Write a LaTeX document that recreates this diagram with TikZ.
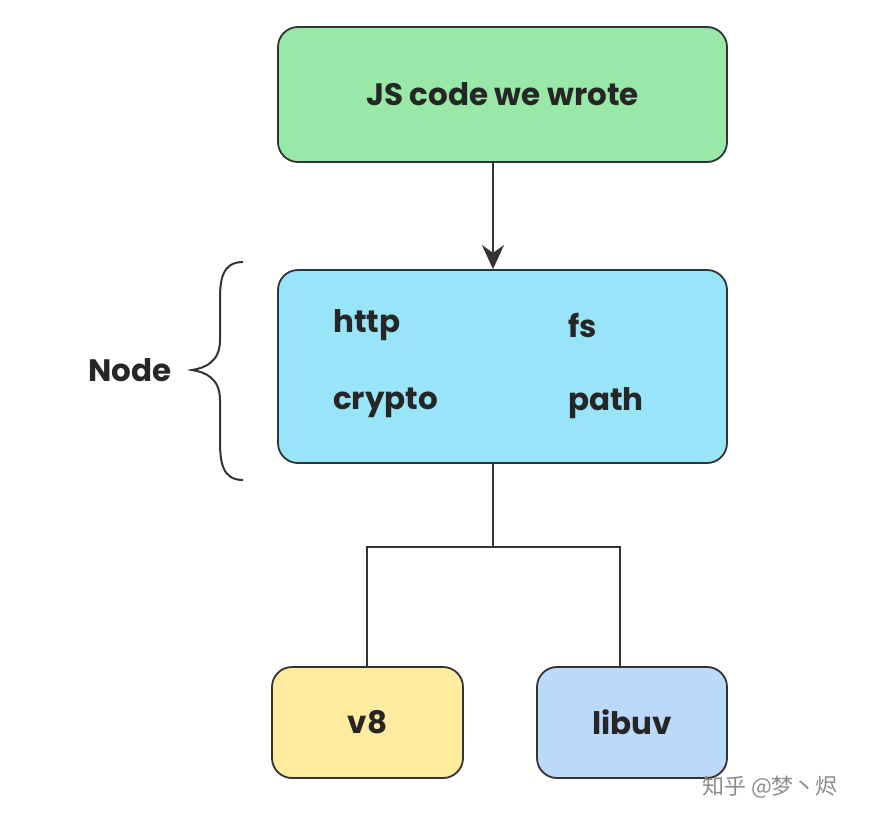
\documentclass[tikz,border=0pt]{standalone}
\usepackage{fontspec}
\setmainfont{Poppins}
\newfontfamily\cjk{Noto Sans CJK SC}
\usetikzlibrary{arrows.meta}
\definecolor{jsgreen}{HTML}{98E8A8}
\definecolor{nodeblue}{HTML}{98E4F8}
\definecolor{veight}{HTML}{FFEBA0}
\definecolor{uvblue}{HTML}{BBD9FB}
\definecolor{edge}{HTML}{333333}
\tikzset{
  box/.style={draw=edge,line width=1.8pt,rounded corners=20pt,inner sep=0pt},
  lbl/.style={font=\fontsize{31}{36}\selectfont\bfseries,text=black!85},
  mod/.style={lbl,anchor=west,inner sep=0pt},
  wire/.style={draw=edge,line width=2.2pt}
}
\begin{document}
\begin{tikzpicture}[x=1pt,y=-1pt]
  \useasboundingbox (0,0) rectangle (872,822);
  % boxes
  \node[box,fill=jsgreen,minimum width=449pt,minimum height=135pt] (js) at (502.5,94.5) {};
  \node[lbl] at (js) {JS code we wrote};
  \node[box,fill=nodeblue,minimum width=449pt,minimum height=193pt] (nd) at (502.5,366.5) {};
  \node[mod] (http) at (333,325) {http};
  \node[mod] (fs) at (568,325) {fs};
  \node[mod] (crypto) at (333,403) {crypto};
  \node[mod] (path) at (568,403) {path};
  \node[box,fill=veight,minimum width=191pt,minimum height=111pt] (v8) at (367.5,722.5) {};
  \node[lbl] at (v8) {v8};
  \node[box,fill=uvblue,minimum width=190pt,minimum height=111pt] (uv) at (632,722.5) {};
  \node[lbl] at (uv) {libuv};

  % connectors
  \draw[wire,-{Stealth[length=24pt,width=22pt]}] (js.south -| 493,0) -- (nd.north -| 493,0);
  \coordinate (fork) at (493,547);
  \draw[wire] (nd.south -| fork) -- (fork);
  \draw[wire] (v8.north -| 367,0) |- (fork) -| (uv.north -| 620,0);

  % brace
  \draw[edge,line width=2pt] (243,262) .. controls (222,262) and (220,280) .. (220,300)
    -- (220,340) .. controls (220,362) and (205,368) .. (192,370)
    .. controls (205,372) and (220,378) .. (220,400)
    -- (220,440) .. controls (220,462) and (222,480) .. (243,480);
  \node[lbl] (lblnode) at (130,370) {Node};

  % watermark
  \node[font=\cjk\fontsize{22}{26}\selectfont,text=black!45] (mark) at (770,787) {知乎 @梦丶烬};
\end{tikzpicture}
\end{document}
